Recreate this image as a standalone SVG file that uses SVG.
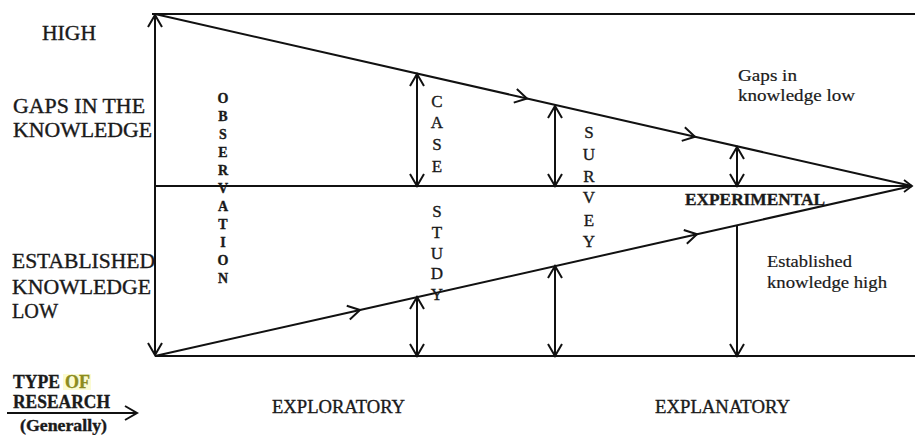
<svg xmlns="http://www.w3.org/2000/svg" width="915" height="435" viewBox="0 0 915 435">
<defs>
<style>
.ln{stroke:#111;stroke-width:2;fill:none}
.t{font-family:"Liberation Serif","Times New Roman",serif;fill:#1a1a1a;stroke:#1a1a1a;stroke-width:0.35}
.cap{font-size:20px}
.sm{font-size:17px;stroke-width:0.2}
.vl{font-size:14px;font-weight:bold;text-anchor:middle}
.vb{font-size:17px;text-anchor:middle}
.ar{marker-end:url(#v)}
.dbl{marker-start:url(#v);marker-end:url(#v)}
</style>
<marker id="v" markerUnits="userSpaceOnUse" markerWidth="30" markerHeight="30" viewBox="-15 -10 30 20" refX="0" refY="0" orient="auto-start-reverse" overflow="visible">
<path d="M-12,-7 L0,0 L-12,7" fill="none" stroke="#111" stroke-width="2"/>
</marker>
<marker id="vs" markerUnits="userSpaceOnUse" markerWidth="30" markerHeight="30" viewBox="-15 -10 30 20" refX="0" refY="0" orient="auto" overflow="visible">
<path d="M-8,-6 L0,0 L-8,6" fill="none" stroke="#111" stroke-width="1.8"/>
</marker>
</defs>

<g id="connectors">
<line id="top-line" class="ln" x1="152" y1="14" x2="915" y2="14"/>
<line id="bottom-line" class="ln" x1="155" y1="356" x2="915" y2="356"/>
<line id="mid-line" class="ln" x1="155" y1="186" x2="912" y2="186" marker-end="url(#vs)"/>
<line id="axis" class="ln dbl" x1="155" y1="15" x2="155" y2="355"/>
<polyline id="upper-diag" class="ln" points="155,14 527,98.5 695,136.7 912,186" marker-mid="url(#v)"/>
<polyline id="lower-diag" class="ln" points="155,356 360,310 697,234.2 912,186" marker-mid="url(#v)"/>
<line id="case-up" class="ln dbl" x1="417" y1="74" x2="417" y2="186"/>
<line id="survey-up" class="ln dbl" x1="555" y1="106" x2="555" y2="186"/>
<line id="exp-up" class="ln dbl" x1="737" y1="147" x2="737" y2="186"/>
<line id="case-low" class="ln dbl" x1="417" y1="297" x2="417" y2="356"/>
<line id="survey-low" class="ln dbl" x1="555" y1="266" x2="555" y2="356"/>
<line id="exp-low" class="ln ar" x1="737" y1="226" x2="737" y2="356"/>
<line id="type-arrow" class="ln" x1="7" y1="413" x2="137" y2="413" marker-end="url(#v)"/>
</g>

<g id="axis-labels">
<text class="t cap" x="42" y="40" textLength="54" lengthAdjust="spacingAndGlyphs">HIGH</text>
<text class="t cap" x="13" y="113" textLength="132" lengthAdjust="spacingAndGlyphs">GAPS IN THE</text>
<text class="t cap" x="13" y="137" textLength="139" lengthAdjust="spacingAndGlyphs">KNOWLEDGE</text>
<text class="t cap" x="12" y="268" textLength="143" lengthAdjust="spacingAndGlyphs">ESTABLISHED</text>
<text class="t cap" x="12" y="294" textLength="139" lengthAdjust="spacingAndGlyphs">KNOWLEDGE</text>
<text class="t cap" x="12" y="318" textLength="46" lengthAdjust="spacingAndGlyphs">LOW</text>
</g>

<g id="type-of-research">
<rect x="63" y="374" width="28" height="16" fill="#fbfbd2"/>
<text class="t" x="13" y="388" font-size="18" font-weight="bold" textLength="47" lengthAdjust="spacingAndGlyphs">TYPE</text>
<text class="t" x="65" y="388" font-size="18" font-weight="bold" style="fill:#8c8c1e;stroke:#8c8c1e" textLength="25" lengthAdjust="spacingAndGlyphs">OF</text>
<text class="t" x="13" y="408" font-size="18" font-weight="bold" textLength="97" lengthAdjust="spacingAndGlyphs">RESEARCH</text>
<text class="t" x="20" y="431" font-size="16" font-weight="bold" textLength="87" lengthAdjust="spacingAndGlyphs">(Generally)</text>
</g>

<g id="observation">
<text class="t vl" x="223" y="103">O</text>
<text class="t vl" x="223" y="121">B</text>
<text class="t vl" x="223" y="139">S</text>
<text class="t vl" x="223" y="157">E</text>
<text class="t vl" x="223" y="175">R</text>
<text class="t vl" x="223" y="193">V</text>
<text class="t vl" x="223" y="211">A</text>
<text class="t vl" x="223" y="229">T</text>
<text class="t vl" x="223" y="247">I</text>
<text class="t vl" x="223" y="265">O</text>
<text class="t vl" x="223" y="283">N</text>
</g>

<g id="case-study">
<text class="t vb" x="437" y="107">C</text>
<text class="t vb" x="437" y="128">A</text>
<text class="t vb" x="437" y="150">S</text>
<text class="t vb" x="437" y="172">E</text>
<text class="t vb" x="437" y="217">S</text>
<text class="t vb" x="437" y="238">T</text>
<text class="t vb" x="437" y="259">U</text>
<text class="t vb" x="437" y="279">D</text>
<text class="t vb" x="437" y="300">Y</text>
</g>

<g id="survey">
<text class="t vb" x="589" y="138">S</text>
<text class="t vb" x="589" y="160">U</text>
<text class="t vb" x="589" y="182">R</text>
<text class="t vb" x="589" y="203">V</text>
<text class="t vb" x="589" y="226">E</text>
<text class="t vb" x="589" y="247">Y</text>
</g>

<g id="experimental">
<text class="t" x="685" y="205" font-size="17" font-weight="bold" textLength="140" lengthAdjust="spacingAndGlyphs">EXPERIMENTAL</text>
</g>

<g id="gaps-low">
<text class="t sm" x="738" y="81" textLength="59" lengthAdjust="spacingAndGlyphs">Gaps in</text>
<text class="t sm" x="738" y="101" textLength="117" lengthAdjust="spacingAndGlyphs">knowledge low</text>
</g>

<g id="established-high">
<text class="t sm" x="767" y="267" textLength="85" lengthAdjust="spacingAndGlyphs">Established</text>
<text class="t sm" x="767" y="288" textLength="120" lengthAdjust="spacingAndGlyphs">knowledge high</text>
</g>

<g id="research-types">
<text class="t" x="272" y="413" font-size="18" textLength="133" lengthAdjust="spacingAndGlyphs">EXPLORATORY</text>
<text class="t" x="655" y="413" font-size="18" textLength="135" lengthAdjust="spacingAndGlyphs">EXPLANATORY</text>
</g>
</svg>
